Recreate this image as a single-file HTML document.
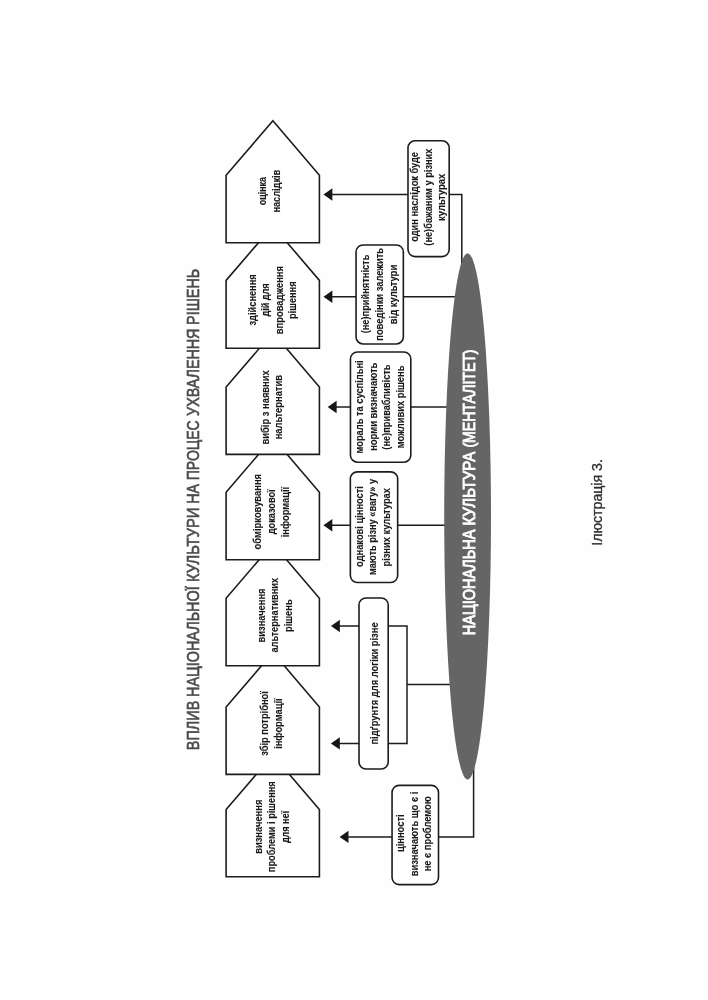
<!DOCTYPE html>
<html lang="uk"><head><meta charset="utf-8"><title>Ілюстрація 3</title>
<style>html,body{margin:0;padding:0;background:#fff}body{width:708px;height:1000px;overflow:hidden}svg{display:block;will-change:transform}text{font-family:"Liberation Sans",sans-serif}.s{font-size:10.6px;font-weight:bold;fill:#1a1a1a;stroke:#1a1a1a;stroke-width:0.1px}.ln{stroke:#1c1c1c;stroke-width:1.5;fill:none}.bx{stroke:#1c1c1c;stroke-width:1.6;fill:#fff}</style></head><body>
<svg width="708" height="1000" viewBox="0 0 708 1000">
<rect width="708" height="1000" fill="#fefefe"/>
<text style="font-size:17.3px;fill:#4c4c4c;stroke:#4c4c4c;stroke-width:0.65px" transform="translate(199.05 749.00) rotate(-90)"><tspan x="-1.15" textLength="49.43" lengthAdjust="spacingAndGlyphs">ВПЛИВ</tspan> <tspan x="52.05" textLength="110.62" lengthAdjust="spacingAndGlyphs">НАЦІОНАЛЬНОЇ</tspan> <tspan x="166.92" textLength="74.55" lengthAdjust="spacingAndGlyphs">КУЛЬТУРИ</tspan> <tspan x="245.26" textLength="19.80" lengthAdjust="spacingAndGlyphs">НА</tspan> <tspan x="268.78" textLength="59.87" lengthAdjust="spacingAndGlyphs">ПРОЦЕС</tspan> <tspan x="333.11" textLength="87.21" lengthAdjust="spacingAndGlyphs">УХВАЛЕННЯ</tspan> <tspan x="424.05" textLength="56.27" lengthAdjust="spacingAndGlyphs">РІШЕНЬ</tspan></text>
<polyline class="ln" points="330,194.45 461.8,194.45 461.8,270"/>
<polygon points="323.5,194.45 332.4,188.25 332.4,200.65" fill="#161616"/>
<polyline class="ln" points="330,296.8 460,296.8"/>
<polygon points="323.5,296.8 332.4,290.6 332.4,303" fill="#161616"/>
<polyline class="ln" points="334,407 455,407"/>
<polygon points="327.7,407 336.6,400.8 336.6,413.2" fill="#161616"/>
<polyline class="ln" points="330,525.3 455,525.3"/>
<polygon points="323.4,525.3 332.3,519.1 332.3,531.5" fill="#161616"/>
<polyline class="ln" points="336,626 407,626 407,743.4 336,743.4"/>
<polygon points="331,626 339.9,619.8 339.9,632.2" fill="#161616"/>
<polygon points="330.9,743.4 339.8,737.2 339.8,749.6" fill="#161616"/>
<polyline class="ln" points="407,684.5 455,684.5"/>
<polyline class="ln" points="345,836.9 473.6,836.9 473.6,760"/>
<polygon points="339.6,836.9 348.5,830.7 348.5,843.1" fill="#161616"/>
<ellipse cx="467.6" cy="516.4" rx="23.4" ry="263.1" fill="#656565"/>
<text style="font-size:15.6px;fill:#fff;stroke:#fff;stroke-width:0.85px" transform="translate(475.25 634.00) rotate(-90)"><tspan x="-1.16" textLength="105.61" lengthAdjust="spacingAndGlyphs">НАЦІОНАЛЬНА</tspan> <tspan x="108.40" textLength="73.75" lengthAdjust="spacingAndGlyphs">КУЛЬТУРА</tspan> <tspan x="186.41" textLength="98.14" lengthAdjust="spacingAndGlyphs">(МЕНТАЛІТЕТ)</tspan></text>
<polygon class="bx" points="272.9,755.1 319.4,809.6 319.4,876.8 226.1,876.8 226.1,809.6"/>
<polygon class="bx" points="272.9,652.5 319.4,707 319.4,774.4 226.1,774.4 226.1,707"/>
<polygon class="bx" points="272.9,543.7 319.4,598.2 319.4,665.7 226.1,665.7 226.1,598.2"/>
<polygon class="bx" points="272.9,437.7 319.4,492.2 319.4,559.7 226.1,559.7 226.1,492.2"/>
<polygon class="bx" points="272.9,332.6 319.4,387.1 319.4,454.4 226.1,454.4 226.1,387.1"/>
<polygon class="bx" points="272.9,225.9 319.4,280.4 319.4,348.2 226.1,348.2 226.1,280.4"/>
<polygon class="bx" points="272.9,120.8 319.4,175.3 319.4,242.7 226.1,242.7 226.1,175.3"/>
<rect class="bx" x="408" y="140.8" width="41.2" height="115.8" rx="7" ry="7"/>
<rect class="bx" x="356.05" y="244.95" width="47.3" height="99" rx="7" ry="7"/>
<rect class="bx" x="350.45" y="352" width="60.35" height="110.2" rx="7" ry="7"/>
<rect class="bx" x="350.35" y="471.85" width="47.3" height="110.65" rx="7" ry="7"/>
<rect class="bx" x="359" y="598" width="29.2" height="171" rx="7" ry="7"/>
<rect class="bx" x="392.05" y="785.4" width="46.45" height="99.2" rx="7" ry="7"/>
<text class="s" transform="translate(266.10 205.27) rotate(-90) scale(0.8421 1)">оцінка</text>
<text class="s" transform="translate(279.90 212.55) rotate(-90) scale(0.8664 1)">наслідків</text>
<text class="s" transform="translate(255.55 325.49) rotate(-90) scale(0.8744 1)">здійснення</text>
<text class="s" transform="translate(269.30 316.60) rotate(-90) scale(0.8581 1)">дій для</text>
<text class="s" transform="translate(282.70 334.16) rotate(-90) scale(0.8837 1)">впровадження</text>
<text class="s" transform="translate(296.10 319.06) rotate(-90) scale(0.8749 1)">рішення</text>
<text class="s" transform="translate(268.60 444.46) rotate(-90) scale(0.8839 1)">вибір з наявних</text>
<text class="s" transform="translate(282.00 439.36) rotate(-90) scale(0.8871 1)">нальтернатив</text>
<text class="s" transform="translate(261.30 549.38) rotate(-90) scale(0.8871 1)">обмірковування</text>
<text class="s" transform="translate(274.90 534.20) rotate(-90) scale(0.8666 1)">доказової</text>
<text class="s" transform="translate(288.50 537.31) rotate(-90) scale(0.8815 1)">інформації</text>
<text class="s" transform="translate(264.50 642.46) rotate(-90) scale(0.8807 1)">визначення</text>
<text class="s" transform="translate(277.90 652.59) rotate(-90) scale(0.8794 1)">альтернативних</text>
<text class="s" transform="translate(291.75 631.96) rotate(-90) scale(0.8818 1)">рішень</text>
<text class="s" transform="translate(268.10 755.74) rotate(-90) scale(0.8792 1)">збір потрібної</text>
<text class="s" transform="translate(281.70 748.86) rotate(-90) scale(0.8815 1)">інформації</text>
<text class="s" transform="translate(261.50 853.86) rotate(-90) scale(0.8840 1)">визначення</text>
<text class="s" transform="translate(275.20 872.15) rotate(-90) scale(0.8718 1)">проблеми і рішення</text>
<text class="s" transform="translate(288.80 843.10) rotate(-90) scale(0.8511 1)">для неї</text>
<text class="s" transform="translate(418.20 241.78) rotate(-90) scale(0.8737 1)">один наслідок буде</text>
<text class="s" transform="translate(431.85 245.67) rotate(-90) scale(0.8720 1)">(не)бажаним у різних</text>
<text class="s" transform="translate(445.45 220.97) rotate(-90) scale(0.8935 1)">культурах</text>
<text class="s" transform="translate(369.40 333.37) rotate(-90) scale(0.8755 1)">(не)прийнятність</text>
<text class="s" transform="translate(383.00 340.76) rotate(-90) scale(0.8833 1)">поведінки залежить</text>
<text class="s" transform="translate(396.50 324.27) rotate(-90) scale(0.8931 1)">від культури</text>
<text class="s" transform="translate(362.70 453.56) rotate(-90) scale(0.8789 1)">мораль та суспільні</text>
<text class="s" transform="translate(376.60 450.86) rotate(-90) scale(0.8883 1)">норми визначають</text>
<text class="s" transform="translate(390.20 449.67) rotate(-90) scale(0.8747 1)">(не)привабливість</text>
<text class="s" transform="translate(403.90 448.26) rotate(-90) scale(0.8831 1)">можливих рішень</text>
<text class="s" transform="translate(362.60 566.88) rotate(-90) scale(0.8780 1)">однакові цінності</text>
<text class="s" transform="translate(376.00 575.05) rotate(-90) scale(0.8712 1)">мають різну «вагу» у</text>
<text class="s" transform="translate(389.80 566.56) rotate(-90) scale(0.8809 1)">різних культурах</text>
<text class="s" transform="translate(377.70 744.56) rotate(-90) scale(0.8828 1)">підґрунтя для логіки різне</text>
<text class="s" transform="translate(403.85 852.11) rotate(-90) scale(0.8855 1)">цінності</text>
<text class="s" transform="translate(417.60 876.36) rotate(-90) scale(0.8842 1)">визначають що є і</text>
<text class="s" transform="translate(431.05 871.36) rotate(-90) scale(0.8818 1)">не є проблемою</text>
<text style="font-size:14px;fill:#2e2e2e;stroke:#2e2e2e;stroke-width:0.3px" transform="translate(602.20 545.67) rotate(-90) scale(1.0093 1)">Ілюстрація 3.</text>
</svg></body></html>
